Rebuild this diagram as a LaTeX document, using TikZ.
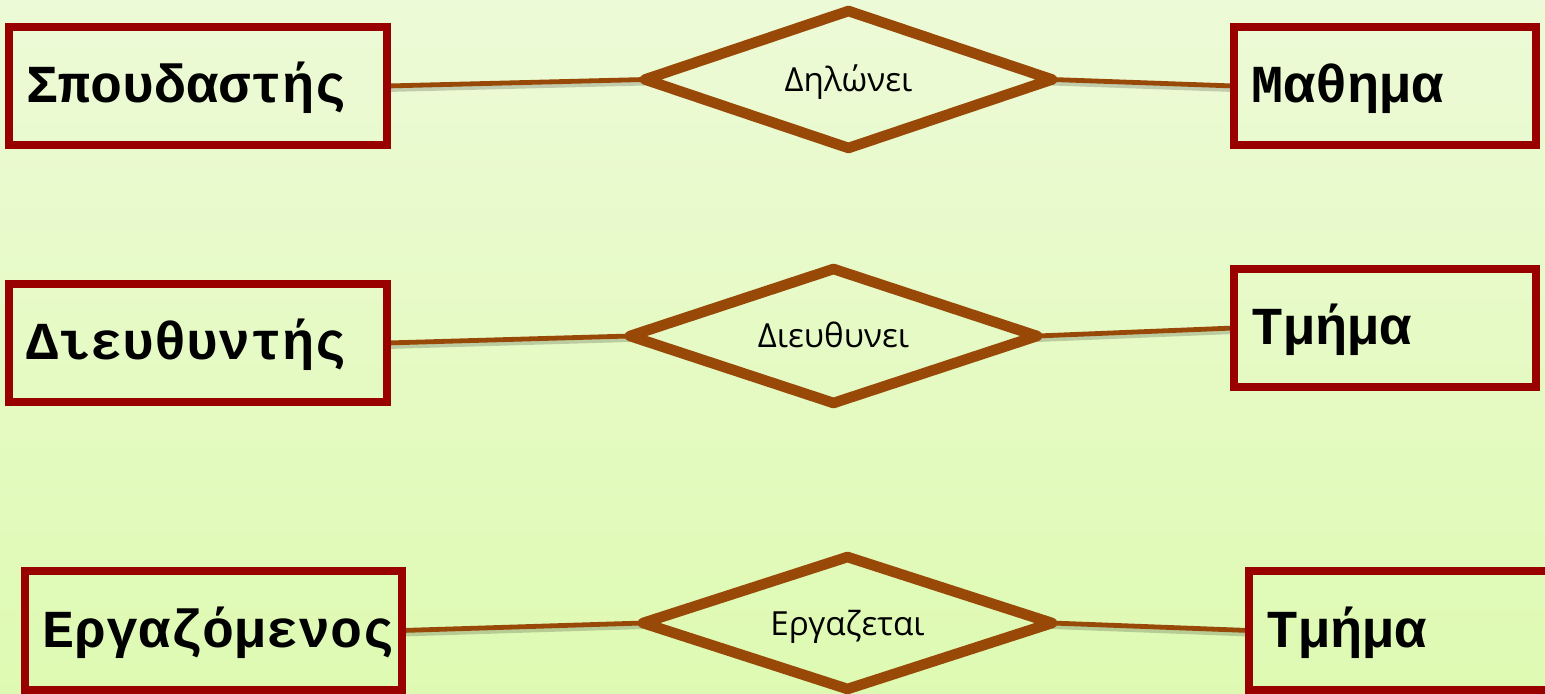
\documentclass[tikz,border=0pt]{standalone}
\usepackage{fontspec}
\usetikzlibrary{shapes.geometric}
\newfontfamily\entfont{Liberation Mono}
\newfontfamily\relfont{Open Sans}
\definecolor{boxred}{RGB}{153,0,0}
\definecolor{relbrown}{RGB}{152,72,7}
\definecolor{bgtop}{RGB}{237,250,215}
\definecolor{bgbot}{RGB}{222,250,178}
\pgfdeclarelayer{back}
\pgfdeclarelayer{links}
\pgfsetlayers{back,links,main}
\tikzset{
  entity/.style={draw=boxred, line width=4pt, rectangle, inner xsep=8.5pt, inner ysep=0pt,
    outer sep=0pt, align=left, text height=17pt, text depth=0pt,
    font=\entfont\bfseries\fontsize{26.7pt}{30pt}\selectfont},
  relation/.style={draw=relbrown, line width=5.3pt, line join=round, shape=diamond, shape aspect=3,
    inner sep=0pt, outer sep=0pt, text height=12pt, text depth=0pt,
    font=\relfont\fontsize{16.6pt}{19pt}\selectfont},
  link/.style={draw=relbrown, line width=2.4pt},
  linkshadow/.style={draw=black, opacity=0.18, line width=3pt, transform canvas={yshift=-1.5pt}}
}
\begin{document}
\begin{tikzpicture}[x=0.5pt,y=-0.5pt]
\useasboundingbox (0,0) rectangle (1545,694);
\clip (0,0) rectangle (1545,694);
\begin{pgfonlayer}{back}
\shade[top color=bgtop, bottom color=bgbot] (0,0) rectangle (1545,694);
\end{pgfonlayer}

% entities
\node[entity, minimum width=189pt, minimum height=59pt, text width=172pt] (e1) at (198,86) {Σπουδαστής};
\node[entity, minimum width=151pt, minimum height=59pt, text width=134pt] (e2) at (1385,86) {Μαθημα};
\node[entity, minimum width=189pt, minimum height=59pt, text width=172pt] (e3) at (198,343) {Διευθυντής};
\node[entity, minimum width=151pt, minimum height=59pt, text width=134pt] (e4) at (1385,328) {Τμήμα};
\node[entity, minimum width=188.5pt, minimum height=59.5pt, text width=171.5pt] (e5) at (213.5,630.5) {Εργαζόμενος};
\node[entity, minimum width=151pt, minimum height=59.5pt, text width=134pt] (e6) at (1400,630.5) {Τμήμα};

% relationships
\node[relation, minimum width=203.5pt, minimum height=68.5pt] (r1) at (848.5,79.5) {Δηλώνει};
\node[relation, minimum width=203.5pt, minimum height=67pt] (r2) at (833.5,336) {Διευθυνει};
\node[relation, minimum width=204.5pt, minimum height=66pt] (r3) at (847.5,623) {Εργαζεται};

% connectors
\begin{pgfonlayer}{links}
\foreach \a/\b in {e1/r1, r1/e2, e3/r2, r2/e4, e5/r3, r3/e6}{
  \draw[linkshadow] (\a.east) -- (\b.west);
  \draw[link] (\a.east) -- (\b.west);
}
\end{pgfonlayer}
\end{tikzpicture}
\end{document}
